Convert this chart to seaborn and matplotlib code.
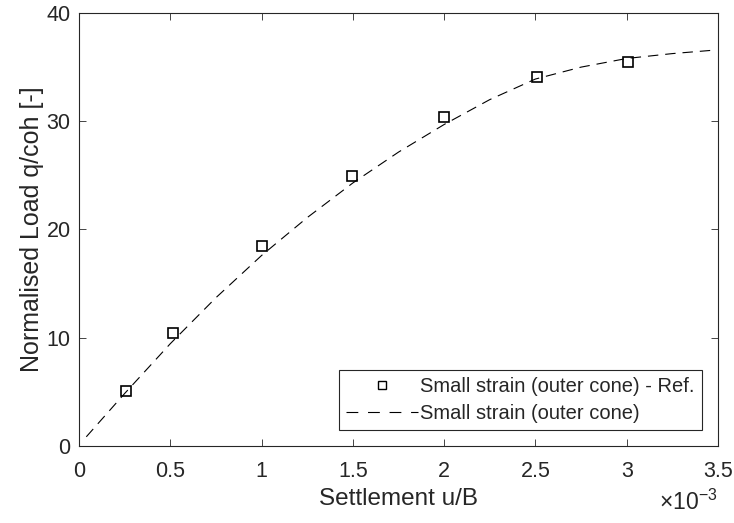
import matplotlib
matplotlib.use("Agg")
import matplotlib.pyplot as plt
from matplotlib.ticker import FuncFormatter
import seaborn as sns
import pandas as pd

# Reference results (markers)
ref_settlement = [0.26e-3, 0.515e-3, 1.005e-3, 1.497e-3, 2.0e-3, 2.508e-3, 3.007e-3]
ref_load = [5.1, 10.45, 18.5, 24.9, 30.4, 34.1, 35.45]

# Computed curve (dashed line)
calc_settlement = [0.04e-3, 0.25e-3, 0.5e-3, 0.75e-3, 1.0e-3, 1.25e-3, 1.5e-3, 1.75e-3,
                   2.0e-3, 2.25e-3, 2.5e-3, 2.75e-3, 3.0e-3, 3.25e-3, 3.465e-3]
calc_load = [0.85, 4.85, 9.45, 13.7, 17.6, 21.1, 24.3, 27.15,
             29.7, 32.0, 33.9, 35.0, 35.8, 36.25, 36.55]

x_ticks = [0, 0.5e-3, 1.0e-3, 1.5e-3, 2.0e-3, 2.5e-3, 3.0e-3, 3.5e-3]
y_ticks = [0, 10, 20, 30, 40]
x_scale = 1e-3

sns.set_theme(style="white")
plt.rcParams["font.family"] = ["Liberation Sans", "DejaVu Sans"]
plt.rcParams["lines.scale_dashes"] = False
plt.rcParams["mathtext.fontset"] = "custom"
plt.rcParams["mathtext.rm"] = "Liberation Sans"

frame = "#262626"

fig = plt.figure(figsize=(7.34, 5.23), dpi=100)
ax = fig.add_axes([79 / 734, 1 - 446 / 523, (718 - 79) / 734, (446 - 13) / 523])

ref_df = pd.DataFrame({"u": ref_settlement, "q": ref_load})
calc_df = pd.DataFrame({"u": calc_settlement, "q": calc_load})

sns.lineplot(data=ref_df, x="u", y="q", ax=ax, linestyle="none", marker="s",
             markersize=7.5, markerfacecolor="none", markeredgecolor="black",
             markeredgewidth=1.2, label="Small strain (outer cone) - Ref.")
sns.lineplot(data=calc_df, x="u", y="q", ax=ax, color="black", linewidth=0.8,
             label="Small strain (outer cone)")
ax.lines[-1].set_dashes((7.5, 5))

ax.set_xlim(0, 3.5e-3)
ax.set_ylim(0, 40)
ax.set_xticks(x_ticks)
ax.set_yticks(y_ticks)
ax.xaxis.set_major_formatter(FuncFormatter(lambda v, p: f"{v / x_scale:g}"))
ax.text(1.0, -0.1, r"$\times$10$^{-3}$", transform=ax.transAxes, ha="right",
        va="top", fontsize=16.5, color=frame)

ax.tick_params(axis="both", which="major", direction="in", length=4.7, width=0.6,
               color=frame, labelcolor=frame, labelsize=15.5, top=True, right=True,
               bottom=True, left=True)
ax.tick_params(axis="x", pad=11)
ax.tick_params(axis="y", pad=6)
for s in ax.spines.values():
    s.set_visible(True)
    s.set_color(frame)
    s.set_linewidth(0.8)

ax.set_xlabel("Settlement u/B", fontsize=17.5, color=frame, labelpad=4)
ax.set_ylabel("Normalised Load q/coh [-]", fontsize=18, color=frame, labelpad=2)

leg = ax.legend(loc="lower right", fontsize=14.5, frameon=True, fancybox=False,
                edgecolor=frame, framealpha=1, borderaxespad=0.8,
                handlelength=3.6, handletextpad=0.1, borderpad=0.35,
                labelspacing=0.4)
leg.get_frame().set_linewidth(0.8)
for h in leg.legend_handles:
    if h.get_marker() == "s":
        h.set_markersize(5.5)
        h.set_markeredgewidth(1.0)
    else:
        h.set_dashes((8.5, 7))

fig.savefig("out.png", dpi=100)
